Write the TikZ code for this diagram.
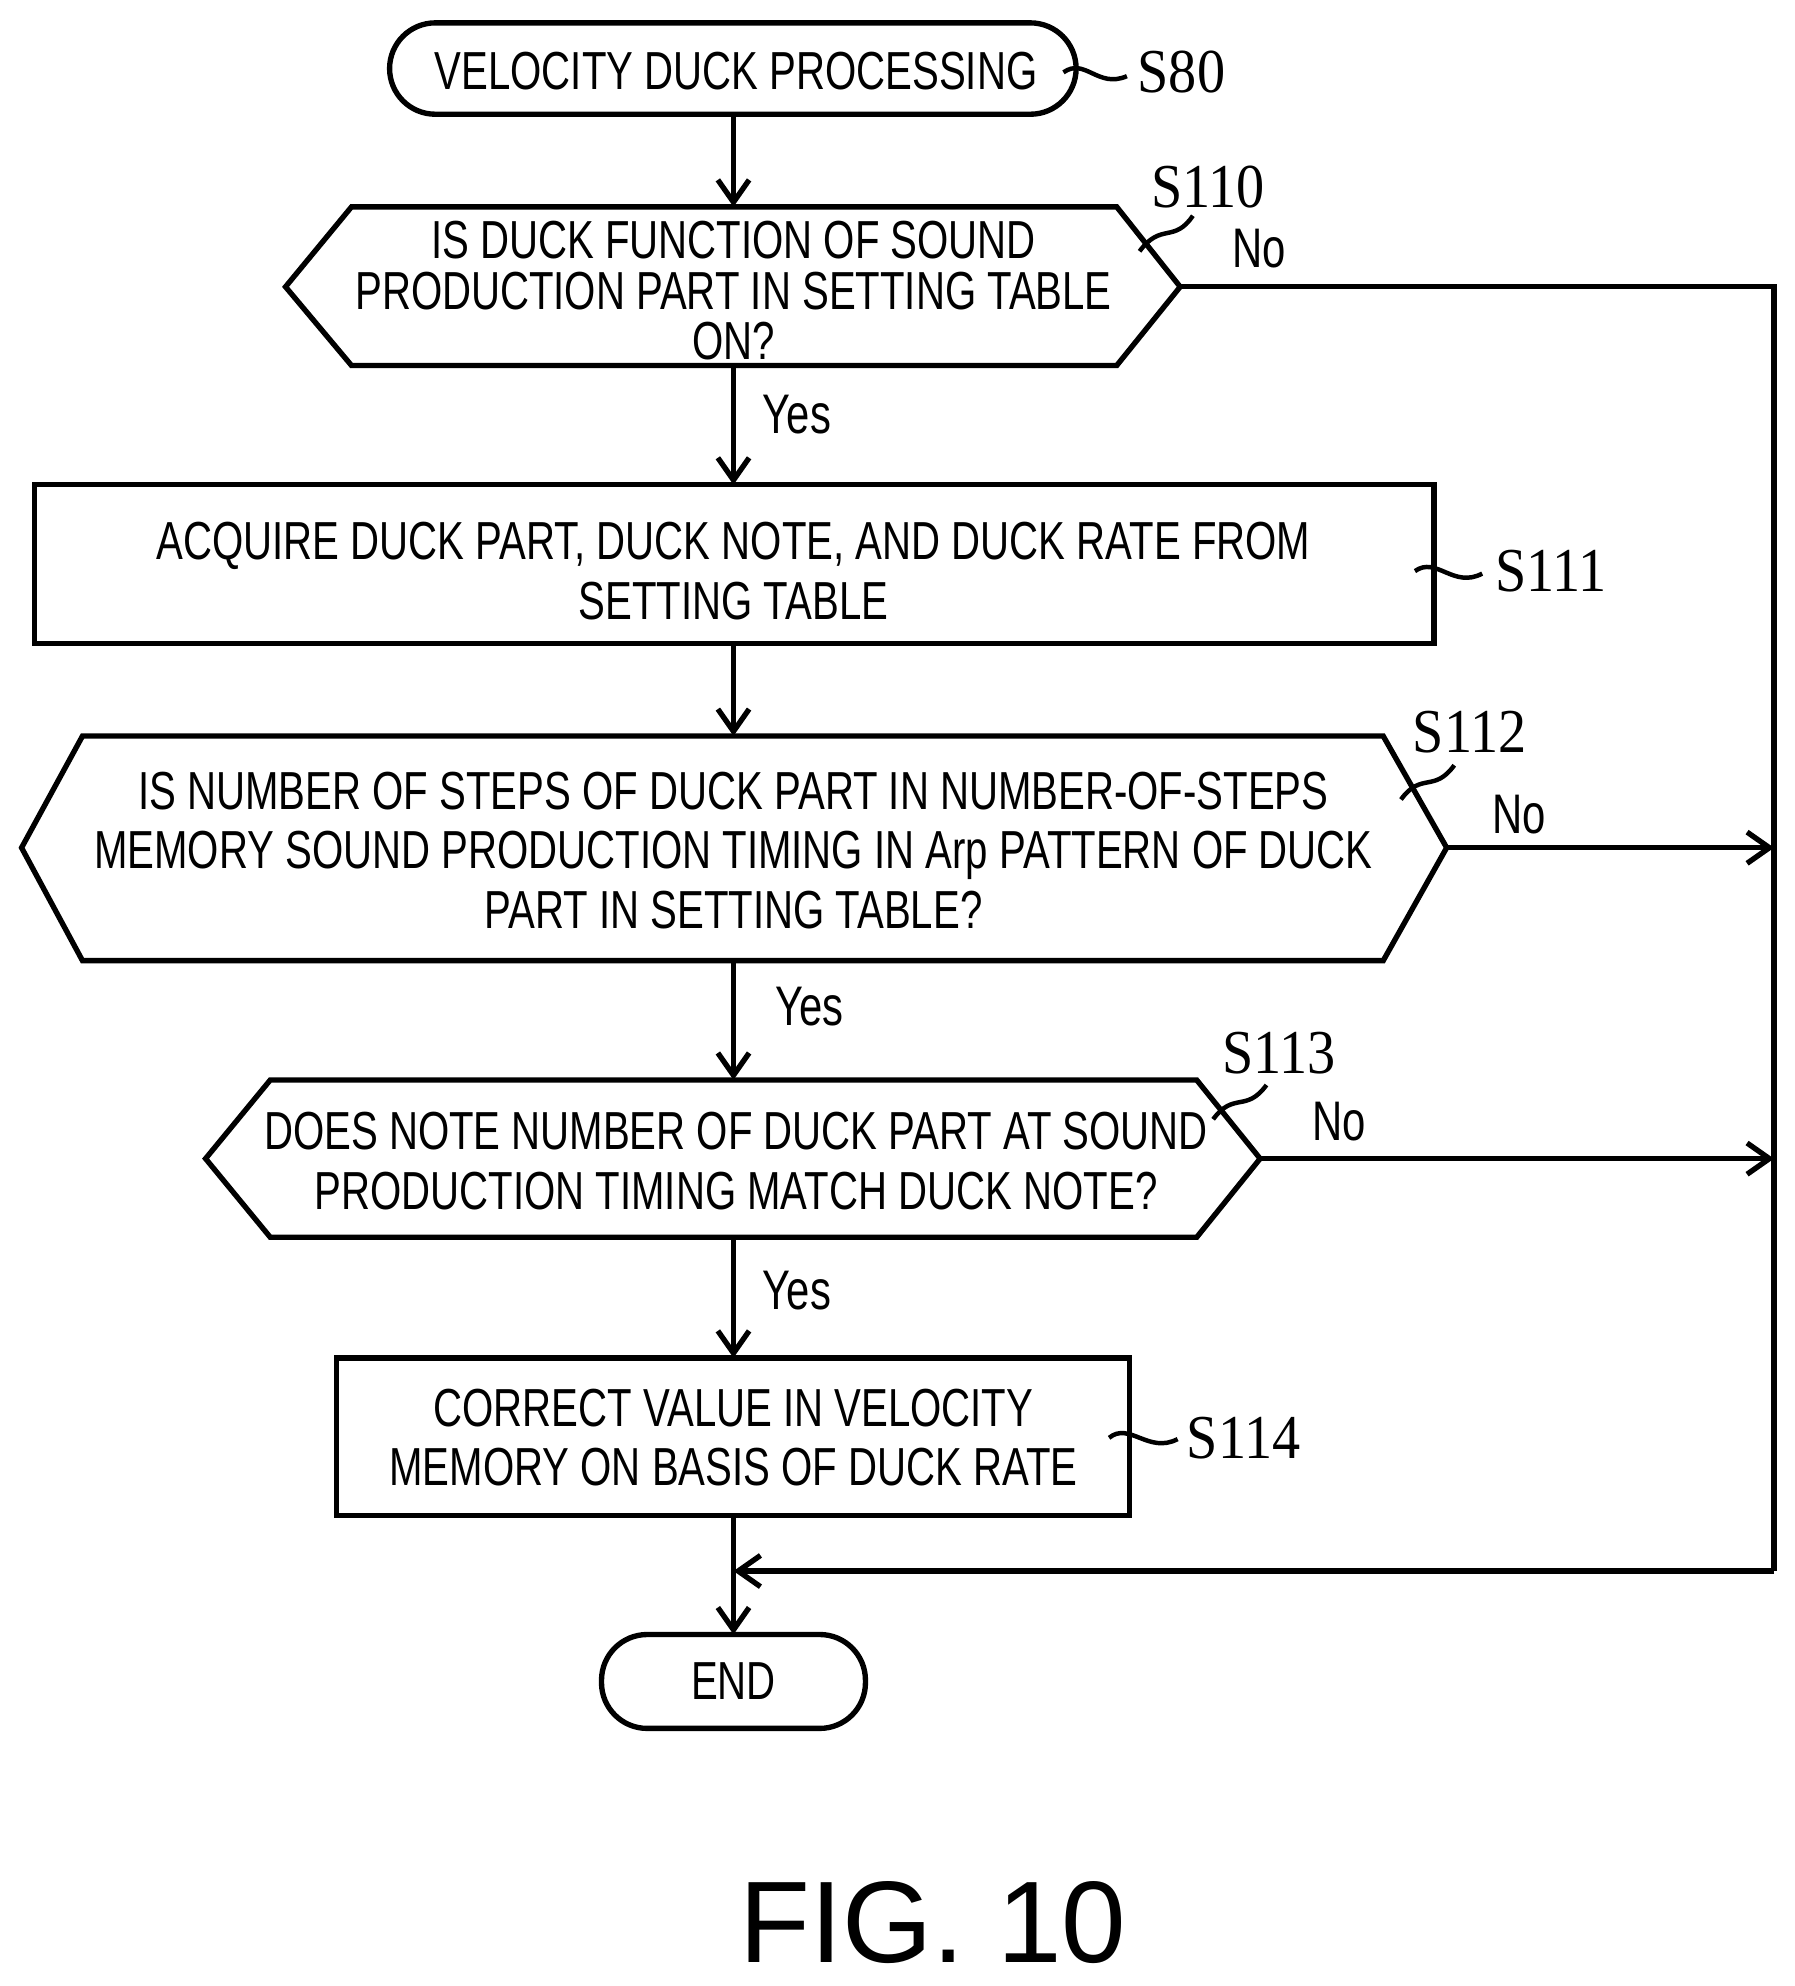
\documentclass[tikz,border=0pt]{standalone}
\usepackage{fontspec}
\setmainfont{Liberation Sans}[FakeStretch=0.75]
\newfontfamily\lblfont{Liberation Serif}[FakeStretch=0.9]
\newfontfamily\figfont{Liberation Sans}
\usetikzlibrary{arrows.meta}
\begin{document}
\begin{tikzpicture}[x=0.01cm,y=-0.01cm,line width=1.2pt,
  txt/.style={font=\fontsize{12}{13.3}\selectfont,align=center,inner sep=0pt},
  tight/.style={font=\fontsize{12}{11.4}\selectfont},
  lbl/.style={font=\lblfont\fontsize{14}{16}\selectfont,inner sep=0pt},
  yn/.style={font=\fontsize{12.5}{15}\selectfont,inner sep=0pt},
  arr/.style={-{Straight Barb[length=5pt,width=7pt]}},
  tild/.style={line width=1pt}]
\useasboundingbox (0,0) rectangle (1414,1565);
% start
\draw[rounded corners=0.36cm] (307,18) rectangle (848,90);
\node[txt] (s80) at (580,56) {VELOCITY DUCK PROCESSING};
\coordinate (s80b) at (578,90);
\node[lbl] (l80) at (931,57) {S80};
\draw[tild] (838,57) .. controls (855,45) and (865,70) .. (888,60);
% S110
\draw (225,226) -- (277,163) -- (880,163) -- (930,226) -- (880,288) -- (277,288) -- cycle;
\coordinate (s110t) at (578,163); \coordinate (s110b) at (578,288); \coordinate (s110r) at (930,226);
\node[txt,tight] (t110) at (578,229) {IS DUCK FUNCTION OF SOUND\\PRODUCTION PART IN SETTING TABLE\\ON?};
\node[lbl] (l110) at (952,147) {S110};
\draw[tild] (898,198) .. controls (915,175) and (925,192) .. (940,170);
\node[yn] (n110) at (992,196) {No};
\node[yn] (y110) at (628,327) {Yes};
% S111
\draw (27,382) rectangle (1130,507);
\coordinate (s111t) at (578,382); \coordinate (s111b) at (578,507);
\node[txt] (t111) at (578,450) {ACQUIRE DUCK PART, DUCK NOTE, AND DUCK RATE FROM\\SETTING TABLE};
\node[lbl] (l111) at (1222,450) {S111};
\draw[tild] (1115,450) .. controls (1132,438) and (1145,464) .. (1168,452);
% S112
\draw (17,668) -- (65,580) -- (1090,580) -- (1140,668) -- (1090,757) -- (65,757) -- cycle;
\coordinate (s112t) at (578,580); \coordinate (s112b) at (578,757); \coordinate (s112r) at (1140,668);
\node[txt] (t112) at (578,670) {IS NUMBER OF STEPS OF DUCK PART IN NUMBER-OF-STEPS\\MEMORY SOUND PRODUCTION TIMING IN Arp PATTERN OF DUCK\\PART IN SETTING TABLE?};
\node[lbl] (l112) at (1158,577) {S112};
\draw[tild] (1104,630) .. controls (1120,608) and (1130,625) .. (1146,603);
\node[yn] (n112) at (1197,642) {No};
\node[yn] (y112) at (638,793) {Yes};
% S113
\draw (162,913) -- (213,851) -- (943,851) -- (993,913) -- (943,975) -- (213,975) -- cycle;
\coordinate (s113t) at (578,851); \coordinate (s113b) at (578,975); \coordinate (s113r) at (993,913);
\node[txt] (t113) at (580,915) {DOES NOTE NUMBER OF DUCK PART AT SOUND\\PRODUCTION TIMING MATCH DUCK NOTE?};
\node[lbl] (l113) at (1008,830) {S113};
\draw[tild] (956,882) .. controls (972,860) and (982,877) .. (998,855);
\node[yn] (n113) at (1055,884) {No};
\node[yn] (y113) at (628,1017) {Yes};
% S114
\draw (265,1070) rectangle (890,1194);
\coordinate (s114t) at (578,1070); \coordinate (s114b) at (578,1194);
\node[txt] (t114) at (578,1133) {CORRECT VALUE IN VELOCITY\\MEMORY ON BASIS OF DUCK RATE};
\node[lbl] (l114) at (980,1133) {S114};
\draw[tild] (874,1133) .. controls (890,1120) and (905,1146) .. (928,1134);
% END
\draw[rounded corners=0.36cm] (474,1288) rectangle (682,1362);
\coordinate (endt) at (578,1288);
\node[txt] (tend) at (578,1325) {END};
% connectors
\coordinate (m) at (578,1238);
\coordinate (r0) at (1398,226); \coordinate (r1) at (1398,668); \coordinate (r2) at (1398,913); \coordinate (r3) at (1398,1238);
\draw[arr] (s80b) -- (s110t);
\draw[arr] (s110b) -- (s111t);
\draw[arr] (s111b) -- (s112t);
\draw[arr] (s112b) -- (s113t);
\draw[arr] (s113b) -- (s114t);
\draw (s114b) -- (m);
\draw[arr] (m) -- (endt);
\draw (s110r) -- (r0) -- (r3);
\draw[arr] (r3) -- (m);
\draw[arr] (s112r) -- (r1);
\draw[arr] (s113r) -- (r2);
\node[font=\figfont\fontsize{26}{28}\selectfont,inner sep=0pt] (fig) at (735,1515) {FIG. 10};
\end{tikzpicture}
\end{document}
